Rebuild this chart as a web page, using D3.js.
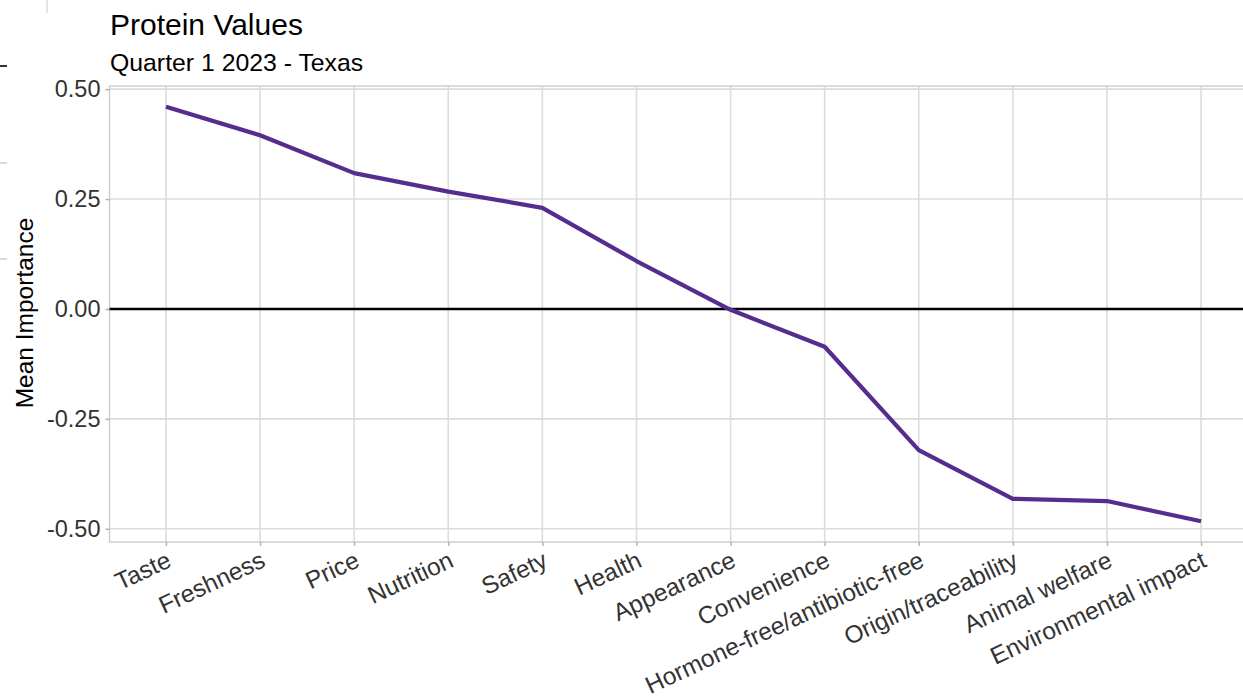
<!DOCTYPE html>
<html>
<head>
<meta charset="utf-8">
<script src="https://cdn.jsdelivr.net/npm/d3@7"></script>
<style>
  html, body { margin: 0; padding: 0; background: #fff; }
  svg { display: block; font-family: "Liberation Sans", Arial, sans-serif; }
</style>
</head>
<body>
<svg id="chart" width="1243" height="698"></svg>
<script>
const categories = ["Taste", "Freshness", "Price", "Nutrition", "Safety", "Health", "Appearance",
  "Convenience", "Hormone-free/antibiotic-free", "Origin/traceability", "Animal welfare", "Environmental impact"];
const meanImportance = [0.460, 0.395, 0.309, 0.267, 0.230, 0.109, -0.002, -0.086, -0.321, -0.432, -0.437, -0.483];
const yTicks = [0.50, 0.25, 0.00, -0.25, -0.50];
const titleText = "Protein Values";
const subtitleText = "Quarter 1 2023 - Texas";
const yTitle = "Mean Importance";

const svg = d3.select("#chart");
const panel = { left: 109.5, top: 86, bottom: 542 };
const step = 94.1;
const n = categories.length;
const panelRight = panel.left + step * (n - 1 + 1.2);

const x = d3.scalePoint().domain(categories).range([panel.left + 0.6 * step, panelRight - 0.6 * step]);
const ext = d3.extent(meanImportance);
const pad = (ext[1] - ext[0]) * 0.05;
const y = d3.scaleLinear().domain([ext[0] - pad, ext[1] + pad]).range([panel.bottom, panel.top]);

// left-edge artifacts
svg.append("line").attr("x1", 0).attr("x2", 7).attr("y1", 66).attr("y2", 66).attr("stroke", "#333").attr("stroke-width", 2);
svg.append("line").attr("x1", 0).attr("x2", 7).attr("y1", 163).attr("y2", 163).attr("stroke", "#ccc").attr("stroke-width", 1.5);
svg.append("line").attr("x1", 0).attr("x2", 7).attr("y1", 259).attr("y2", 259).attr("stroke", "#ccc").attr("stroke-width", 1.5);
svg.append("line").attr("x1", 47).attr("x2", 47).attr("y1", 0).attr("y2", 13).attr("stroke", "#ddd").attr("stroke-width", 1.5);

// grid
const g = svg.append("g");
g.selectAll(".hgrid").data(yTicks).join("line")
  .attr("x1", panel.left).attr("x2", panelRight)
  .attr("y1", d => y(d)).attr("y2", d => y(d))
  .attr("stroke", "#dcdcdc").attr("stroke-width", 1.6);
g.selectAll(".vgrid").data(categories).join("line")
  .attr("x1", d => x(d)).attr("x2", d => x(d))
  .attr("y1", panel.top).attr("y2", panel.bottom)
  .attr("stroke", "#dcdcdc").attr("stroke-width", 1.6);
// panel border
g.append("rect").attr("x", panel.left).attr("y", panel.top)
  .attr("width", panelRight - panel.left).attr("height", panel.bottom - panel.top)
  .attr("fill", "none").attr("stroke", "#c8c8c8").attr("stroke-width", 1.3);

// zero line
g.append("line").attr("x1", panel.left).attr("x2", panelRight)
  .attr("y1", y(0)).attr("y2", y(0)).attr("stroke", "#000").attr("stroke-width", 2.4);

// line
const line = d3.line().x((d, i) => x(categories[i])).y(d => y(d));
g.append("path").datum(meanImportance).attr("d", line)
  .attr("fill", "none").attr("stroke", "#552d8f").attr("stroke-width", 4.2)
  .attr("stroke-linejoin", "round");

// y axis
const yAxis = d3.axisLeft(y).tickValues(yTicks).tickFormat(d => d.toFixed(2)).tickSize(4).tickPadding(5);
const ya = svg.append("g").attr("transform", `translate(${panel.left},0)`).call(yAxis);
ya.select(".domain").remove();
ya.selectAll(".tick line").attr("stroke", "#b3b3b3").attr("stroke-width", 1.5);
ya.selectAll(".tick text").attr("fill", "#333").style("font-size", "23.5px")
  .style("font-family", "'Liberation Sans', Arial, sans-serif");

// x axis
const xAxis = d3.axisBottom(x).tickSize(4).tickPadding(0);
const xa = svg.append("g").attr("transform", `translate(0,${panel.bottom})`).call(xAxis);
xa.select(".domain").remove();
xa.selectAll(".tick line").attr("stroke", "#b3b3b3").attr("stroke-width", 1.5);
xa.selectAll(".tick text").attr("fill", "#333").style("font-size", "24.4px")
  .style("font-family", "'Liberation Sans', Arial, sans-serif")
  .attr("text-anchor", "end").attr("x", 0).attr("y", 0).attr("dy", "0.9em")
  .attr("transform", "translate(-3,4) rotate(-25)");

// y title
svg.append("text").attr("transform", "translate(33,313) rotate(-90)")
  .attr("text-anchor", "middle").attr("fill", "#000").style("font-size", "24.5px").text(yTitle);

// titles
svg.append("text").attr("x", 110).attr("y", 35).attr("fill", "#000").style("font-size", "30px").text(titleText);
svg.append("text").attr("x", 110).attr("y", 71).attr("fill", "#000").style("font-size", "24.8px").text(subtitleText);
</script>
</body>
</html>
